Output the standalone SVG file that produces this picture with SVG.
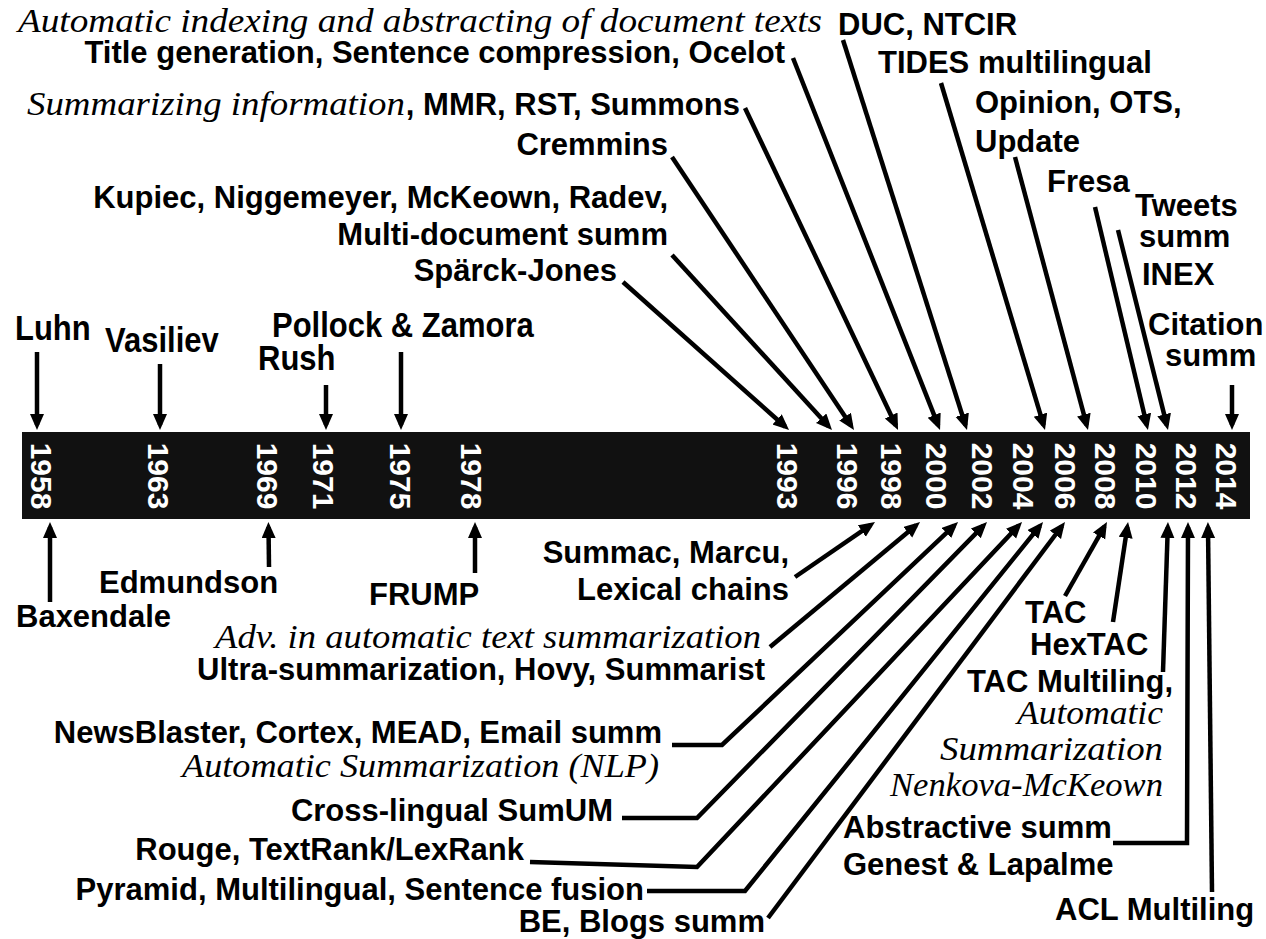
<svg xmlns="http://www.w3.org/2000/svg" width="1266" height="939" viewBox="0 0 1266 939">
<defs>
<style>
.b{font-family:"Liberation Sans",Arial,sans-serif;font-weight:bold;font-size:31px;fill:#000}
.i{font-family:"Liberation Serif","Times New Roman",serif;font-style:italic;font-size:33px;fill:#000}
.yr{font-family:"Liberation Sans",Arial,sans-serif;font-weight:bold;font-size:30px;fill:#fff;text-anchor:middle}
.e{text-anchor:end}
.c{stroke:#000;stroke-width:4.5;fill:none;marker-end:url(#ah)}
</style>
<marker id="ah" markerUnits="userSpaceOnUse" markerWidth="18" markerHeight="16" refX="11" refY="7" orient="auto"><path d="M0,0 L16,7 L0,14 z" fill="#000"/></marker>
</defs>
<rect width="1266" height="939" fill="#fff"/>
<g id="timeline">
<rect x="22" y="432" width="1228" height="87" fill="#111"/>
<g class="yr">
<text transform="translate(42,476) rotate(90)" y="11">1958</text>
<text transform="translate(159,476) rotate(90)" y="11">1963</text>
<text transform="translate(268,476) rotate(90)" y="11">1969</text>
<text transform="translate(324,476) rotate(90)" y="11">1971</text>
<text transform="translate(401,476) rotate(90)" y="11">1975</text>
<text transform="translate(472,476) rotate(90)" y="11">1978</text>
<text transform="translate(788,476) rotate(90)" y="11">1993</text>
<text transform="translate(848,476) rotate(90)" y="11">1996</text>
<text transform="translate(892,476) rotate(90)" y="11">1998</text>
<text transform="translate(937,476) rotate(90)" y="11">2000</text>
<text transform="translate(983,476) rotate(90)" y="11">2002</text>
<text transform="translate(1024,476) rotate(90)" y="11">2004</text>
<text transform="translate(1066,476) rotate(90)" y="11">2006</text>
<text transform="translate(1106,476) rotate(90)" y="11">2008</text>
<text transform="translate(1147,476) rotate(90)" y="11">2010</text>
<text transform="translate(1187,476) rotate(90)" y="11">2012</text>
<text transform="translate(1227,476) rotate(90)" y="11">2014</text>
</g>
</g>
<g id="connectors">
<line class="c" x1="37" y1="352" x2="37" y2="425"/>
<line class="c" x1="160" y1="364" x2="160" y2="425"/>
<line class="c" x1="326" y1="385" x2="326" y2="425"/>
<line class="c" x1="401" y1="352" x2="401" y2="425"/>
<line class="c" x1="623" y1="282" x2="785.3" y2="426.7"/>
<line class="c" x1="672" y1="255" x2="828.6" y2="426.3"/>
<line class="c" x1="672" y1="157" x2="851.2" y2="425.8"/>
<line class="c" x1="745" y1="108" x2="895.9" y2="425.5"/>
<line class="c" x1="793" y1="58" x2="938.2" y2="425.4"/>
<line class="c" x1="843" y1="40" x2="965.5" y2="425.2"/>
<line class="c" x1="941" y1="83" x2="1043.6" y2="425.2"/>
<line class="c" x1="1015" y1="157" x2="1086.7" y2="425.2"/>
<line class="c" x1="1095" y1="207" x2="1146.8" y2="425.1"/>
<line class="c" x1="1118" y1="230" x2="1166.8" y2="425.1"/>
<line class="c" x1="1232" y1="385" x2="1232" y2="425"/>
<line class="c" x1="50" y1="602" x2="50" y2="527"/>
<line class="c" x1="269" y1="567" x2="268.5" y2="527"/>
<line class="c" x1="475" y1="573" x2="475" y2="527"/>
<line class="c" x1="795" y1="577" x2="870.9" y2="524.8"/>
<line class="c" x1="770" y1="647" x2="916.2" y2="525.2"/>
<polyline class="c" points="672,745 722,745 954.4,525.4"/>
<polyline class="c" points="622,818 697,818 983.5,525.6"/>
<polyline class="c" points="530,862 697,867 1018.6,525.6"/>
<polyline class="c" points="647,891 745,891 1039.9,525.9"/>
<line class="c" x1="768" y1="918" x2="1062" y2="526"/>
<line class="c" x1="1065" y1="596" x2="1104.5" y2="526.4"/>
<line class="c" x1="1113" y1="622" x2="1127.3" y2="526.9"/>
<line class="c" x1="1163" y1="672" x2="1167.8" y2="527"/>
<polyline class="c" points="1113,843 1187,843 1188,527"/>
<line class="c" x1="1212" y1="892" x2="1208" y2="527"/>
</g>
<g id="luhn"><text class="b" transform="translate(15,340) scale(1,1.15)">Luhn</text></g>
<g id="vasiliev"><text class="b" transform="translate(105,352) scale(1,1.15)">Vasiliev</text></g>
<g id="pollock"><text class="b" transform="translate(272,337) scale(1,1.15)">Pollock &amp; Zamora</text></g>
<g id="rush"><text class="b" transform="translate(258,370) scale(1,1.15)">Rush</text></g>
<g id="n1978"><text class="i" x="18" y="32" textLength="804" lengthAdjust="spacingAndGlyphs">Automatic indexing and abstracting of document texts</text></g>
<g id="n2000top"><text class="b e" x="785" y="63">Title generation, Sentence compression, Ocelot</text></g>
<g id="n1998top"><text class="i" x="27" y="115" textLength="378" lengthAdjust="spacingAndGlyphs">Summarizing information</text><text class="b e" x="740" y="115">, MMR, RST, Summons</text></g>
<g id="cremmins"><text class="b e" x="668" y="155">Cremmins</text></g>
<g id="kupiec"><text class="b e" x="668" y="208">Kupiec, Niggemeyer, McKeown, Radev,</text><text class="b e" x="668" y="245">Multi-document summ</text></g>
<g id="sparck"><text class="b e" x="617" y="281">Spärck-Jones</text></g>
<g id="duc"><text class="b" x="838" y="35">DUC, NTCIR</text></g>
<g id="tides"><text class="b" x="878" y="73">TIDES multilingual</text></g>
<g id="opinion"><text class="b" x="975" y="113">Opinion, OTS,</text><text class="b" x="975" y="152">Update</text></g>
<g id="fresa"><text class="b" x="1047" y="192">Fresa</text></g>
<g id="tweets"><text class="b" x="1135" y="216">Tweets</text><text class="b" x="1139" y="247">summ</text></g>
<g id="inex"><text class="b" x="1142" y="285">INEX</text></g>
<g id="citation"><text class="b" x="1148" y="335">Citation</text><text class="b" x="1165" y="366">summ</text></g>
<g id="baxendale"><text class="b" x="16" y="627">Baxendale</text></g>
<g id="edmundson"><text class="b" x="99" y="593">Edmundson</text></g>
<g id="frump"><text class="b" x="369" y="605">FRUMP</text></g>
<g id="summac"><text class="b e" x="789" y="563">Summac, Marcu,</text><text class="b e" x="789" y="600">Lexical chains</text></g>
<g id="adv"><text class="i" x="215" y="648" textLength="546" lengthAdjust="spacingAndGlyphs">Adv. in automatic text summarization</text><text class="b e" x="765" y="680">Ultra-summarization, Hovy, Summarist</text></g>
<g id="newsblaster"><text class="b e" x="662" y="743">NewsBlaster, Cortex, MEAD, Email summ</text><text class="i" x="182" y="777" textLength="477" lengthAdjust="spacingAndGlyphs">Automatic Summarization (NLP)</text></g>
<g id="crosslingual"><text class="b e" x="613" y="821">Cross-lingual SumUM</text></g>
<g id="rouge"><text class="b e" x="524" y="860">Rouge, TextRank/LexRank</text></g>
<g id="pyramid"><text class="b e" x="644" y="900">Pyramid, Multilingual, Sentence fusion</text></g>
<g id="be"><text class="b e" x="765" y="932">BE, Blogs summ</text></g>
<g id="tac"><text class="b" x="1025" y="623">TAC</text></g>
<g id="hextac"><text class="b" x="1030" y="655">HexTAC</text></g>
<g id="tacmulti"><text class="b e" x="1173" y="692">TAC Multiling,</text>
<text class="i" x="1017" y="724" textLength="146" lengthAdjust="spacingAndGlyphs">Automatic</text>
<text class="i" x="940" y="760" textLength="223" lengthAdjust="spacingAndGlyphs">Summarization</text>
<text class="i" x="890" y="796" textLength="273" lengthAdjust="spacingAndGlyphs">Nenkova-McKeown</text></g>
<g id="abstractive"><text class="b" x="843" y="838">Abstractive summ</text><text class="b" x="843" y="875">Genest &amp; Lapalme</text></g>
<g id="acl"><text class="b" x="1055" y="920">ACL Multiling</text></g>
</svg>
